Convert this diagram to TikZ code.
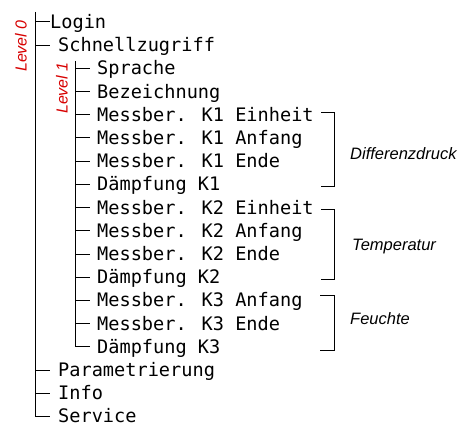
\documentclass[tikz,border=0pt]{standalone}
\usepackage{fontspec}
\setmainfont{Liberation Sans}
\newfontfamily\lcdfont{DejaVu Sans Mono}
\usetikzlibrary{positioning}
\definecolor{levelred}{RGB}{215,0,0}

\tikzset{
  tree/.style={line width=1pt},
  menu/.style={anchor=west, inner ysep=0pt, inner xsep=7pt, text height=13pt, text depth=0pt,
    font=\lcdfont\fontsize{18.6}{18.6}\selectfont},
  group/.style={anchor=west, inner sep=0pt, font=\itshape\fontsize{16.5}{16.5}\selectfont},
  levelmark/.style={rotate=90, inner sep=0pt, text=levelred, font=\itshape\fontsize{16}{16}\selectfont}
}

\begin{document}
\begin{tikzpicture}[x=1pt, y=-1pt]
        \useasboundingbox (0, 0) rectangle (472, 428);

        % level 0
        \coordinate (top0) at (35, 12);
        \node[menu, inner xsep=0pt] (login) at (50, 22) {Login};
        \node[menu, inner xsep=8pt] (schnell) at (50, 45.2) {Schnellzugriff};
        \node[menu, inner xsep=8pt] (param) at (50, 370) {Parametrierung};
        \node[menu, inner xsep=8pt] (info) at (50, 393.2) {Info};
        \node[menu, inner xsep=8pt] (service) at (50, 416.4) {Service};

        % level 1
        \coordinate (top1) at (75, 61);
        \node[menu] (sprache) at (90, 68.4) {Sprache};
        \node[menu] (bez) at (90, 91.6) {Bezeichnung};
        \node[menu] (keinsein) at (90, 114.8) {Messber. K1 Einheit};
        \node[menu] (keinsanf) at (90, 138) {Messber. K1 Anfang};
        \node[menu] (keinsend) at (90, 161.2) {Messber. K1 Ende};
        \node[menu] (keinsdmp) at (90, 184.4) {Dämpfung K1};
        \node[menu] (kzweiein) at (90, 207.6) {Messber. K2 Einheit};
        \node[menu] (kzweianf) at (90, 230.8) {Messber. K2 Anfang};
        \node[menu] (kzweiend) at (90, 254) {Messber. K2 Ende};
        \node[menu] (kzweidmp) at (90, 277.2) {Dämpfung K2};
        \node[menu] (kdreianf) at (90, 300.4) {Messber. K3 Anfang};
        \node[menu] (kdreiend) at (90, 323.6) {Messber. K3 Ende};
        \node[menu] (kdreidmp) at (90, 346.8) {Dämpfung K3};

        % tree lines
        \draw[tree] (top0) |- (service.west);
        \foreach \n in {login, schnell, param, info}
            \draw[tree] (\n.west -| top0) -- (\n.west);
        \draw[tree] (top1) |- (kdreidmp.west);
        \foreach \n in {sprache, bez, keinsein, keinsanf, keinsend, keinsdmp, kzweiein, kzweianf, kzweiend, kzweidmp, kdreianf, kdreiend}
            \draw[tree] (\n.west -| top1) -- (\n.west);

        % level marks
        \node[levelmark] (lvlnull) at (21, 46) {Level 0};
        \node[levelmark] (lvleins) at (62, 88) {Level 1};

        % groups
        \draw[tree] (321, 113) -| (334, 186) -- (321, 186);
        \node[group] (diff) at (350, 154) {Differenzdruck};
        \draw[tree] (321, 209) -| (334, 279) -- (321, 279);
        \node[group] (temp) at (352, 247) {Temperatur};
        \draw[tree] (320, 295) -| (334, 350) -- (320, 350);
        \node[group] (feucht) at (350, 319) {Feuchte};
	\end{tikzpicture}
\end{document}
